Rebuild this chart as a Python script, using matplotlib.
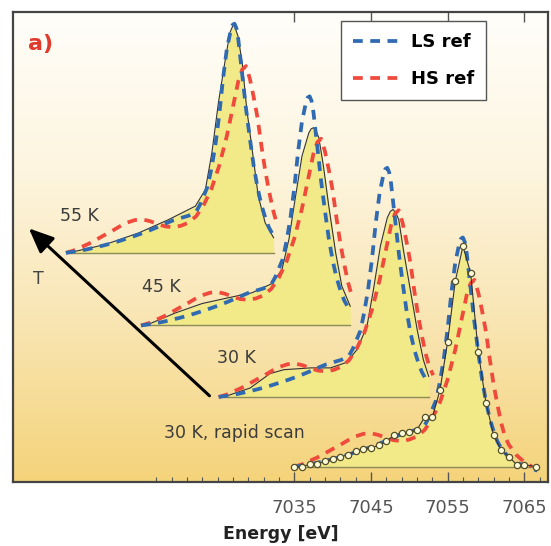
import numpy as np
import matplotlib.pyplot as plt
from matplotlib.colors import LinearSegmentedColormap

# reference spectra (energy in eV, intensity normalised to LS peak), bottom-trace frame
ls_energy = [7035, 7036, 7037, 7038, 7039, 7040, 7041, 7042, 7043, 7044, 7045, 7046, 7047, 7048,
             7049, 7050, 7051, 7052, 7052.5, 7053, 7053.5, 7054, 7054.5, 7055, 7055.5, 7056,
             7056.5, 7056.75, 7057, 7057.25, 7057.5, 7058, 7058.5, 7059, 7059.5, 7060, 7060.5,
             7061, 7061.5, 7062, 7063, 7064, 7065, 7066, 7066.7]
ls_value = [0.0, 0.005, 0.01, 0.017, 0.025, 0.033, 0.042, 0.052, 0.063, 0.074, 0.086, 0.099, 0.113,
            0.128, 0.142, 0.152, 0.162, 0.18, 0.21, 0.25, 0.29, 0.37, 0.47, 0.60, 0.76, 0.89,
            0.97, 0.995, 1.0, 0.98, 0.93, 0.78, 0.63, 0.50, 0.38, 0.285, 0.21,
            0.155, 0.11, 0.08, 0.04, 0.018, 0.005, -0.01, -0.017]

hs_energy = [7035, 7036, 7037, 7038, 7039, 7040, 7041, 7042, 7043, 7044, 7045, 7046, 7047, 7048,
             7049, 7050, 7051, 7052, 7053, 7054, 7055, 7056, 7056.5, 7057, 7057.5, 7058, 7058.5,
             7059, 7059.5, 7060, 7060.5, 7061, 7061.5, 7062, 7062.5, 7063, 7064, 7065, 7066]
hs_value = [0.0, 0.01, 0.025, 0.04, 0.058, 0.077, 0.095, 0.115, 0.132, 0.143, 0.146, 0.138, 0.125,
            0.115, 0.112, 0.118, 0.132, 0.16, 0.21, 0.28, 0.38, 0.51, 0.59, 0.67, 0.75, 0.80, 0.815,
            0.76, 0.68, 0.59, 0.47, 0.36, 0.27, 0.19, 0.13, 0.095, 0.05, 0.02, 0.0]

# measured traces
rapid_energy = list(range(7035, 7066)) + [7066.5]
rapid_value = [0.0, 0.0, 0.01, 0.012, 0.024, 0.034, 0.042, 0.052, 0.067, 0.079, 0.082, 0.093, 0.110,
               0.136, 0.147, 0.151, 0.161, 0.215, 0.215, 0.333, 0.544, 0.809, 0.962, 0.846, 0.501,
               0.279, 0.138, 0.072, 0.043, 0.009, 0.009, 0.0]

k30_energy = [7035.65, 7039.1, 7041.7, 7043.5, 7047.0, 7049.6, 7051.7, 7053.05, 7054.35, 7055.2,
              7056.1, 7057.0, 7057.4, 7057.75, 7058.1, 7058.5, 7059.1, 7060.0, 7060.9, 7061.7,
              7062.4]
k30_value = [0.0, 0.039, 0.102, 0.119, 0.127, 0.127, 0.151, 0.207, 0.308, 0.469,
             0.658, 0.782, 0.81, 0.818, 0.805, 0.774, 0.643, 0.469, 0.294, 0.163, 0.09]

k45_energy = [7035.6, 7039.5, 7043.0, 7046.4, 7049.5, 7052.1, 7053.4, 7054.3, 7055.1, 7056.0,
              7056.9, 7057.2, 7057.5, 7057.85, 7058.2, 7058.8, 7059.5, 7060.4, 7061.2, 7062.3]
k45_value = [0.0, 0.055, 0.096, 0.121, 0.143, 0.183, 0.245, 0.376, 0.55, 0.739,
             0.841, 0.858, 0.863, 0.848, 0.82, 0.696, 0.521, 0.317, 0.172, 0.084]

k55_energy = [7035.35, 7040.1, 7044.5, 7048.4, 7051.9, 7053.2, 7054.05, 7054.9, 7055.8, 7056.4,
              7056.9, 7057.45, 7058.0, 7058.6, 7059.3, 7060.1, 7061.0, 7062.1]
k55_value = [0.0, 0.036, 0.087, 0.145, 0.204, 0.276, 0.437, 0.655, 0.844, 0.961,
             1.0, 0.946, 0.83, 0.626, 0.451, 0.247, 0.131, 0.066]

labels = ["30 K, rapid scan", "30 K", "45 K", "55 K"]
shift_x = [0.0, -9.87, -20.0, -29.8]
shift_y = [0.0, 0.304, 0.616, 0.933]
ref_end = [7066.7, 7062.5, 7062.4, 7062.2]
label_pos = [(7027.2, 0.148), (7027.5, 0.476), (7017.7, 0.786), (7007.0, 1.092)]

measured = [(rapid_energy, rapid_value), (k30_energy, k30_value),
            (k45_energy, k45_value), (k55_energy, k55_value)]

blue = "#2f6ab3"
red = "#ef4a3c"
fill_yellow = "#f2ea88"

fig = plt.figure(figsize=(5.51, 5.46), dpi=100)
ax = fig.add_axes([13 / 551, 64 / 546, 535 / 551, 470 / 546])
ax.set_xlim(6998.3, 7068.1)
ax.set_ylim(-0.067, 1.984)

# background gradient
bg = LinearSegmentedColormap.from_list("bg", ["#f4d37a", "#f9e5b2", "#fdf5df", "#fffefa"])
grad = np.linspace(0, 1, 256).reshape(-1, 1)
ax.imshow(grad, cmap=bg, aspect="auto", origin="lower",
          extent=[6998.3, 7068.1, -0.067, 1.984], zorder=0)

ls_e = np.array(ls_energy)
ls_v = np.array(ls_value)
hs_e = np.array(hs_energy)
hs_v = np.array(hs_value)

for i in range(4):
    e = np.array(measured[i][0])
    v = np.array(measured[i][1])
    dx, dy = shift_x[i], shift_y[i]
    z = 2 + (4 - i) * 0.1
    ax.fill_between(e + dx, dy, v + dy, color=fill_yellow, lw=0, zorder=z)
    ax.plot([e[0] + dx, e[-1] + dx], [dy, dy], color="#8d8a5a", lw=1.0, zorder=z)
    if i == 0:
        ax.plot(e + dx, v + dy, color="#333333", lw=0.8, marker="o", ms=4.5,
                mfc="#fdfbd8", mec="#55502a", mew=0.9, zorder=z + 0.05)
    else:
        ax.plot(e + dx, v + dy, color="#333333", lw=0.8, zorder=z + 0.01)
    m = hs_e <= ref_end[i] + 0.5
    ax.plot(hs_e[m] + dx, hs_v[m] + dy, color=red, lw=2.7, dashes=(2.6, 2.0), zorder=z + 0.02)
    m = ls_e <= ref_end[i]
    ax.plot(ls_e[m] + dx, ls_v[m] + dy, color=blue, lw=2.7, dashes=(2.6, 2.0), zorder=z + 0.03)
    ax.text(label_pos[i][0], label_pos[i][1], labels[i], fontsize=12.5, color="#3c3c3c",
            ha="center", va="center", zorder=5)

# temperature arrow
ax.annotate("", xy=(7000.1, 1.048), xytext=(7024.2, 0.301),
            arrowprops=dict(arrowstyle="-|>,head_length=1.5,head_width=0.65", color="black", lw=2.2),
            zorder=5)
ax.text(7001.6, 0.82, "T", fontsize=12.5, color="#444444", ha="center", va="center")
ax.text(7001.9, 1.843, "a)", fontsize=16, fontweight="bold", color="#e03a2e", ha="center", va="center")

# legend proxies
ax.plot([], [], color=blue, lw=2.7, dashes=(2.6, 2.0), label="LS ref")
ax.plot([], [], color=red, lw=2.7, dashes=(2.6, 2.0), label="HS ref")
leg = ax.legend(loc="upper right", bbox_to_anchor=(0.885, 0.98), borderaxespad=0,
                prop={"weight": "bold", "size": 13}, handlelength=2.5, handletextpad=0.75,
                labelspacing=1.05, borderpad=0.65, fancybox=False, framealpha=1)
leg.get_frame().set_edgecolor("#555555")
leg.get_frame().set_linewidth(1.0)

ax.set_xticks([7035, 7045, 7055, 7065])
ax.set_xticks(np.arange(7017, 7068, 2), minor=True)
ax.set_yticks([])
ax.tick_params(axis="x", which="major", direction="in", length=7, width=1, top=True,
               labelsize=13, labelcolor="#555555", color="#555555", pad=12)
ax.tick_params(axis="x", which="minor", direction="in", length=3.5, width=0.8, color="#555555")
ax.set_xlabel("Energy [eV]", fontsize=12.5, fontweight="bold", color="#222222", labelpad=6)
for s in ax.spines.values():
    s.set_color("#444444")
    s.set_linewidth(1.6)

fig.savefig("out.png", dpi=100)
